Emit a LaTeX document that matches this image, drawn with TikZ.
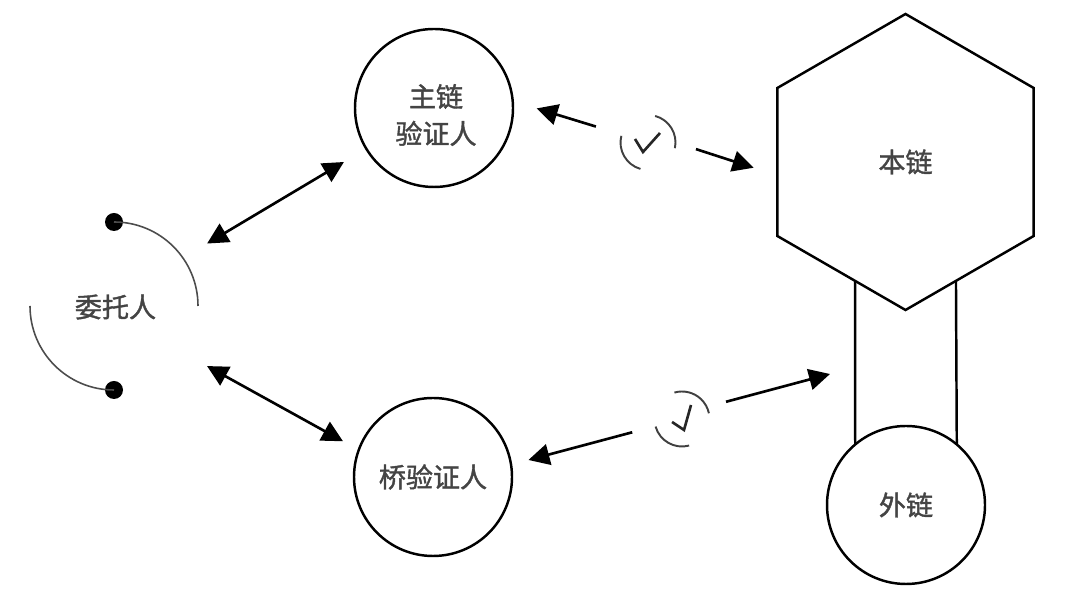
\documentclass[tikz,border=0pt]{standalone}
\usepackage{fontspec}
\newfontfamily\cjk[FakeBold=1.4]{Noto Sans CJK SC}
\usetikzlibrary{arrows.meta,shapes.geometric}
\definecolor{labelgray}{HTML}{444444}
\tikzset{
  chain/.style={draw=black,line width=1.4pt,circle,minimum size=3.16cm,inner sep=0pt,outer sep=0pt},
  hexa/.style={draw=black,line width=1.4pt,regular polygon,regular polygon sides=6,shape border rotate=30,minimum size=5.92cm,inner sep=0pt,outer sep=0pt},
  lab/.style={text=labelgray,font=\cjk\fontsize{15.4}{21}\selectfont,inner sep=0pt},
  dot/.style={circle,fill=black,minimum size=0.36cm,inner sep=0pt,outer sep=0pt},
  ring/.style={circle,minimum size=3.36cm,inner sep=0pt,outer sep=0pt},
  tick/.style={circle,minimum size=1.1cm,inner sep=0pt,outer sep=0pt},
  thinarc/.style={draw=black!70,line width=0.9pt},
  tickarc/.style={draw=black!75,line width=1.1pt},
  tickmark/.style={draw=black!85,line width=1.5pt},
  link/.style={draw=black,line width=1.5pt,-{Triangle[length=0.42cm,width=0.42cm]}},
  dlink/.style={draw=black,line width=1.5pt,{Triangle[length=0.42cm,width=0.42cm]}-{Triangle[length=0.42cm,width=0.42cm]}}
}
\begin{document}
\begin{tikzpicture}
\useasboundingbox (0,0) rectangle (21.6,12.02);
\node[chain] (zhulian) at (8.68,9.86) {};
\node[lab,align=center] (zhulabel) at ([xshift=0.04cm,yshift=-0.14cm]zhulian) {主链\\验证人};
\node[chain,lab] (qiao) at (8.66,2.48) {桥验证人};
\node[chain,lab] (wailian) at (18.12,1.92) {外链};
\node[hexa,lab] (benlian) at (18.11,8.78) {本链};
\node[ring,lab] (weituo) at (2.31,5.88) {委托人};
\node[dot] (dotup) at (2.28,7.58) {};
\node[dot] (dotdown) at (2.28,4.22) {};
\node[tick] (tickup) at (12.96,9.17) {};
\node[tick] (tickdown) at (13.64,3.64) {};
\coordinate (railtip) at (16.6,4.54);
\draw[thinarc] (dotup.center) arc (90:0:1.68);
\draw[thinarc] (dotdown.center) arc (270:180:1.68);
\draw[line width=1.4pt] (benlian.247) -- (wailian.130);
\draw[line width=1.4pt] (benlian.293) -- (wailian.50);
\draw[dlink,shorten <=0.55cm,shorten >=0.52cm] (weituo.36) -- (zhulian.211);
\draw[dlink,shorten <=0.5cm,shorten >=0.36cm] (weituo.-34) -- (qiao.160);
\draw[link,shorten <=1.09cm,shorten >=0.5cm] (tickup.center) -- (zhulian.5);
\draw[link,shorten <=0.43cm,shorten >=0.5cm] (tickup.east) -- (benlian.186);
\draw[link,shorten <=1.03cm,shorten >=0.36cm] (tickdown.center) -- (qiao.9);
\draw[link,shorten <=0.4cm] (tickdown.26) -- (railtip);
\draw[tickarc] (tickup.75) arc (75:-12:0.55);
\draw[tickarc] (tickup.166) arc (166:254:0.55);
\draw[tickmark] (12.7,9.24) -- (12.86,8.98) -- (13.2,9.36);
\draw[tickarc] (tickdown.106) arc (106:12:0.55);
\draw[tickarc] (tickdown.196) arc (196:285:0.55);
\draw[tickmark] (13.44,3.58) -- (13.68,3.42) -- (13.82,3.92);
\end{tikzpicture}
\end{document}
